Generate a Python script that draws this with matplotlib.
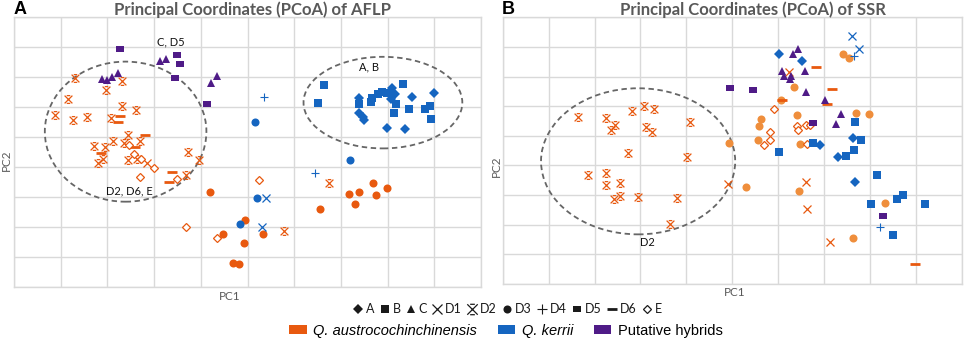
import matplotlib
matplotlib.use("Agg")
import matplotlib.pyplot as plt
from matplotlib.path import Path
from matplotlib.lines import Line2D
from matplotlib.patches import Patch, Ellipse

# ---------------- data (PC scores, in grid units) ----------------
# Panel A: AFLP
A_hyb_D5_x = [2.27, 3.48, 3.55, 3.45, 4.13]
A_hyb_D5_y = [7.93, 7.74, 7.44, 6.97, 6.11]
A_hyb_C_x = [1.89, 2.00, 2.10, 2.22, 3.13, 3.26, 4.22, 4.35]
A_hyb_C_y = [6.93, 6.90, 7.02, 7.15, 7.53, 7.62, 6.80, 7.05]
A_aus_D2_x = [1.31, 2.31, 1.96, 1.15, 2.31, 2.61, 0.88, 1.26, 1.57, 2.08, 2.44, 2.69, 2.12,
              2.35, 1.71, 1.95, 1.90, 1.80, 2.44, 2.63, 3.72, 3.96, 3.68, 6.75, 5.78]
A_aus_D2_y = [6.96, 6.88, 6.57, 6.26, 6.04, 5.89, 5.75, 5.57, 5.68, 5.63, 5.08, 4.88, 4.87,
              4.81, 4.70, 4.67, 4.26, 4.12, 4.23, 4.26, 4.50, 4.22, 3.73, 3.47, 1.86]
A_aus_D1_x = [2.84]
A_aus_D1_y = [4.14]
A_aus_D6_x = [2.28, 2.22, 2.81, 2.59, 1.86, 3.39, 3.32]
A_aus_D6_y = [5.69, 5.50, 5.08, 4.66, 4.46, 3.84, 3.50]
A_aus_E_x = [2.46, 2.58, 2.71, 3.00, 2.70, 3.50, 3.69, 4.35, 5.25]
A_aus_E_y = [4.72, 4.43, 4.26, 3.98, 3.66, 3.60, 1.99, 1.62, 3.58]
A_aus_D3_x = [4.20, 4.48, 4.70, 4.82, 4.95, 4.93, 5.34, 6.55, 7.17, 7.38, 7.31, 7.69, 7.75, 7.98]
A_aus_D3_y = [3.15, 1.75, 0.79, 0.75, 2.22, 1.45, 1.75, 2.59, 3.10, 3.16, 2.76, 3.45, 3.05, 3.31]
A_ker_D3_x = [5.15, 5.20, 4.84, 7.20]
A_ker_D3_y = [5.50, 2.96, 2.09, 4.23]
A_ker_D1_x = [5.39, 5.30]
A_ker_D1_y = [2.97, 1.99]
A_ker_D4_x = [5.35, 6.45]
A_ker_D4_y = [6.34, 3.79]
A_ker_B_x = [6.63, 6.50, 7.39, 7.64, 7.66, 7.79, 7.87, 7.98, 8.32, 8.17, 8.14, 8.46, 8.81, 8.91, 8.94]
A_ker_B_y = [6.73, 6.13, 6.09, 6.16, 6.29, 6.44, 6.51, 6.48, 6.77, 6.09, 5.80, 5.94, 5.93, 6.04, 5.61]
A_ker_A_x = [7.39, 7.39, 7.48, 7.49, 7.98, 8.37, 8.52, 9.00, 8.10, 8.09, 8.16, 8.07]
A_ker_A_y = [6.29, 5.81, 5.66, 5.57, 5.31, 5.28, 6.33, 6.47, 6.63, 6.40, 6.44, 6.28]

# Panel B: SSR
B_aus_D2_x = [1.63, 2.26, 2.44, 2.35, 2.82, 3.08, 3.29, 3.13, 3.25, 4.09, 2.73, 4.02, 1.86,
              2.25, 2.25, 2.56, 2.42, 2.56, 2.94, 3.80, 3.64]
B_aus_D2_y = [5.63, 5.61, 5.36, 5.19, 5.84, 6.00, 5.91, 5.29, 5.13, 5.47, 4.42, 4.29, 3.68,
              3.75, 3.34, 3.41, 2.88, 2.96, 2.93, 2.90, 2.01]
B_aus_D3_x = [7.41, 7.54, 6.34, 6.06, 6.41, 5.62, 5.59, 5.56, 4.93, 6.47, 7.69, 7.98, 5.30, 6.45, 8.33, 7.64]
B_aus_D3_y = [7.77, 7.62, 6.65, 6.21, 5.70, 5.57, 5.34, 4.87, 4.75, 4.74, 5.78, 5.75, 3.26, 3.13, 2.72, 1.56]
B_aus_D1_x = [4.90, 6.61, 6.62, 7.14, 6.24]
B_aus_D1_y = [3.37, 3.43, 2.52, 1.42, 7.15]
B_aus_D6_x = [6.82, 7.17, 6.08, 7.07, 8.98]
B_aus_D6_y = [7.31, 6.59, 6.21, 6.09, 0.67]
B_aus_E_x = [5.90, 5.83, 5.82, 5.70, 6.41, 6.43, 6.61, 6.69, 6.64]
B_aus_E_y = [5.91, 5.13, 4.86, 4.68, 5.33, 5.21, 5.36, 5.38, 4.74]
B_hyb_D5_x = [4.96, 5.45, 6.75, 8.28]
B_hyb_D5_y = [6.60, 6.55, 5.43, 2.28]
B_hyb_C_x = [6.33, 6.43, 6.08, 6.13, 6.26, 6.29, 6.58, 6.60, 7.02, 7.36, 7.26]
B_hyb_C_y = [7.75, 7.92, 7.19, 7.03, 6.91, 7.01, 7.18, 6.49, 6.21, 5.73, 5.40]
B_ker_A_x = [6.02, 6.51, 6.91, 7.63, 7.30, 7.68]
B_ker_A_y = [7.75, 7.54, 4.68, 4.93, 4.29, 3.43]
B_ker_B_x = [7.68, 7.81, 7.65, 7.49, 6.77, 6.01, 8.15, 8.03, 8.59, 8.73, 9.19, 8.50]
B_ker_B_y = [5.46, 4.85, 4.53, 4.31, 4.77, 4.45, 3.68, 2.70, 2.88, 3.00, 2.70, 1.64]
B_ker_D1_x = [7.62, 7.76]
B_ker_D1_y = [8.37, 7.93]
B_ker_D4_x = [7.66, 8.22]
B_ker_D4_y = [7.69, 1.91]

legend_codes = ["A", "B", "C", "D1", "D2", "D3", "D4", "D5", "D6", "E"]
species = ["Q. austrocochinchinensis", "Q. kerrii", "Putative hybrids"]
titles = ["Principal Coordinates (PCoA) of AFLP", "Principal Coordinates (PCoA) of SSR"]

# ---------------- style ----------------
ORANGE = "#E8590F"
ORANGE_L = "#EF8E3C"
BLUE = "#1565C0"
PURPLE = "#4F1B87"
GRID = "#D9D9D9"
TXT = "#595959"
LBL_FONT = ["Lato", "DejaVu Sans"]

d2_path = Path([(-1, -1), (1, 1), (-1, 1), (1, -1), (-0.45, 1), (0.45, 1), (-0.45, -1), (0.45, -1)],
               [Path.MOVETO, Path.LINETO] * 4)
d5_path = Path([(-1, -0.62), (1, -0.62), (1, 0.62), (-1, 0.62), (-1, -0.62)],
               [Path.MOVETO, Path.LINETO, Path.LINETO, Path.LINETO, Path.CLOSEPOLY])

STY = {
    "A": dict(marker="D", ms=4.6, mew=0),
    "B": dict(marker="s", ms=5.4, mew=0),
    "C": dict(marker="^", ms=5.8, mew=0),
    "D1": dict(marker="x", ms=5.8, mew=0.9, mfc="none"),
    "D2": dict(marker=d2_path, ms=5.6, mew=0.9, mfc="none"),
    "D3": dict(marker="o", ms=5.8, mew=0),
    "D4": dict(marker="+", ms=6.0, mew=0.8),
    "D5": dict(marker=d5_path, ms=6.0, mew=0),
    "D6": dict(marker="_", ms=7.0, mew=2.0),
    "E": dict(marker="D", ms=4.4, mew=0.9, mfc="white"),
}


def pts(ax, x, y, code, color):
    s = dict(STY[code])
    kw = dict(linestyle="none", color=color, mec=color)
    if "mfc" not in s:
        kw["mfc"] = color
    kw.update(s)
    ax.plot(x, y, **kw)


fig = plt.figure(figsize=(9.64, 3.43), dpi=100)
axA = fig.add_axes([14 / 964, 56.3 / 343, 467 / 964, 269.4 / 343])
axB = fig.add_axes([502.7 / 964, 59 / 343, 459 / 964, 266.7 / 343])

for ax in (axA, axB):
    ax.set_xlim(0, 10)
    ax.set_ylim(0, 9)
    ax.set_xticks(range(0, 11))
    ax.set_yticks(range(0, 10))
    ax.tick_params(length=0, labelbottom=False, labelleft=False)
    ax.grid(True, color=GRID, linewidth=1.0)
    ax.set_axisbelow(True)
    for sp in ax.spines.values():
        sp.set_color(GRID)
        sp.set_linewidth(1.0)

# Panel A
axA.add_patch(Ellipse((2.39, 5.18), 3.46, 4.68, fill=False, ec="#666666", ls=(0, (3, 2)), lw=1.3))
axA.add_patch(Ellipse((7.90, 6.15), 3.40, 3.06, fill=False, ec="#666666", ls=(0, (3, 2)), lw=1.3))
pts(axA, A_aus_D2_x, A_aus_D2_y, "D2", ORANGE)
pts(axA, A_aus_D1_x, A_aus_D1_y, "D1", ORANGE)
pts(axA, A_aus_D6_x, A_aus_D6_y, "D6", ORANGE)
pts(axA, A_aus_E_x, A_aus_E_y, "E", ORANGE)
pts(axA, A_aus_D3_x, A_aus_D3_y, "D3", ORANGE)
pts(axA, A_ker_D3_x, A_ker_D3_y, "D3", BLUE)
pts(axA, A_ker_D1_x, A_ker_D1_y, "D1", BLUE)
pts(axA, A_ker_D4_x, A_ker_D4_y, "D4", BLUE)
pts(axA, A_ker_B_x, A_ker_B_y, "B", BLUE)
pts(axA, A_ker_A_x, A_ker_A_y, "A", BLUE)
pts(axA, A_hyb_D5_x, A_hyb_D5_y, "D5", PURPLE)
pts(axA, A_hyb_C_x, A_hyb_C_y, "C", PURPLE)
axA.text(3.35, 8.17, "C, D5", ha="center", va="center", fontsize=8, family=LBL_FONT, color="#111111")
axA.text(2.48, 3.20, "D2, D6, E", ha="center", va="center", fontsize=8, family=LBL_FONT, color="#111111")
axA.text(7.60, 7.35, "A, B", ha="center", va="center", fontsize=8, family=LBL_FONT, color="#111111")

# Panel B
axB.add_patch(Ellipse((2.95, 4.14), 4.23, 4.93, fill=False, ec="#666666", ls=(0, (3, 2)), lw=1.3))
pts(axB, B_aus_D2_x, B_aus_D2_y, "D2", ORANGE)
pts(axB, B_aus_D3_x, B_aus_D3_y, "D3", ORANGE_L)
pts(axB, B_aus_D1_x, B_aus_D1_y, "D1", ORANGE)
pts(axB, B_aus_D6_x, B_aus_D6_y, "D6", ORANGE)
pts(axB, B_aus_E_x, B_aus_E_y, "E", ORANGE)
pts(axB, B_ker_B_x, B_ker_B_y, "B", BLUE)
pts(axB, B_ker_A_x, B_ker_A_y, "A", BLUE)
pts(axB, B_ker_D1_x, B_ker_D1_y, "D1", BLUE)
pts(axB, B_ker_D4_x, B_ker_D4_y, "D4", BLUE)
pts(axB, B_hyb_C_x, B_hyb_C_y, "C", PURPLE)
pts(axB, B_hyb_D5_x, B_hyb_D5_y, "D5", PURPLE)
axB.text(3.16, 1.39, "D2", ha="center", va="center", fontsize=8, family=LBL_FONT, color="#111111")

# titles and labels
fig.text(253 / 964, 1 - 10 / 343, titles[0], ha="center", va="center", fontsize=12,
         fontweight="bold", family=LBL_FONT, color=TXT)
fig.text(752.5 / 964, 1 - 10 / 343, titles[1], ha="center", va="center", fontsize=12,
         fontweight="bold", family=LBL_FONT, color=TXT)
fig.text(14 / 964, 1 - 10 / 343, "A", ha="left", va="center", fontsize=13, fontweight="bold",
         family=["Liberation Sans", "DejaVu Sans"], color="black")
fig.text(502 / 964, 1 - 10 / 343, "B", ha="left", va="center", fontsize=13, fontweight="bold",
         family=["Liberation Sans", "DejaVu Sans"], color="black")
fig.text(230 / 964, 1 - 296 / 343, "PC1", ha="center", va="center", fontsize=8.5, family=LBL_FONT, color=TXT)
fig.text(735 / 964, 1 - 293 / 343, "PC1", ha="center", va="center", fontsize=8.5, family=LBL_FONT, color=TXT)
fig.text(6 / 964, 1 - 160 / 343, "PC2", ha="center", va="center", rotation=90, fontsize=8.5,
         family=LBL_FONT, color=TXT)
fig.text(496 / 964, 1 - 166 / 343, "PC2", ha="center", va="center", rotation=90, fontsize=8.5,
         family=LBL_FONT, color=TXT)

# legend row 1: marker codes
h1 = []
for c in legend_codes:
    s = dict(STY[c])
    kw = dict(linestyle="none", color="#1a1a1a", mec="#1a1a1a")
    if "mfc" not in s:
        kw["mfc"] = "#1a1a1a"
    kw.update(s)
    if c in ("D1", "D4", "D2"):
        kw["ms"] = 7.5
    h1.append(Line2D([], [], **kw))
leg1 = fig.legend(h1, legend_codes, ncol=10, loc="center", bbox_to_anchor=(507 / 964, 1 - 309 / 343),
                  frameon=False, handlelength=0.9, handletextpad=0.2, columnspacing=0.35,
                  prop=dict(family=LBL_FONT, size=9), labelcolor="#1a1a1a")

# legend row 2: species
h2 = [Patch(fc=ORANGE, ec="none"), Patch(fc=BLUE, ec="none"), Patch(fc=PURPLE, ec="none")]
leg2 = fig.legend(h2, species, ncol=3, loc="center", bbox_to_anchor=(506 / 964, 1 - 331 / 343),
                  frameon=False, handlelength=1.2, handleheight=0.55, handletextpad=0.45,
                  columnspacing=1.4, prop=dict(family=["Liberation Sans", "DejaVu Sans"], size=10.5))
for t in leg2.get_texts()[:2]:
    t.set_style("italic")

fig.savefig("out.png", dpi=100)
